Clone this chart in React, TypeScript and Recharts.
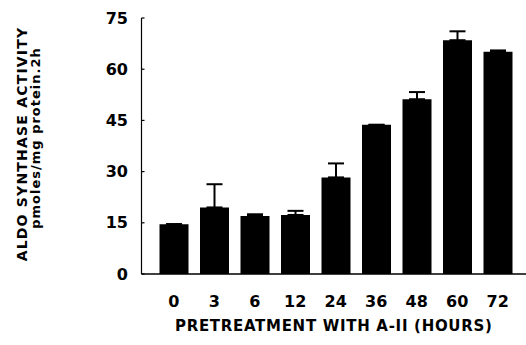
import React from "react";
import {
  BarChart,
  Bar,
  XAxis,
  YAxis,
  ErrorBar,
  Label,
} from "recharts";

// pretreatment hours and aldo synthase activity (pmoles/mg protein.2h)
const hours = ["0", "3", "6", "12", "24", "36", "48", "60", "72"];
const activity = [14.6, 19.5, 17.0, 17.3, 28.3, 43.7, 51.2, 68.5, 65.1];
const sem = [0, 6.8, 0.5, 1.2, 4.1, 0, 2.1, 2.6, 0.4];
const yTicks = [0, 15, 30, 45, 60, 75];

const data = hours.map((h, i) => ({
  hour: h,
  value: activity[i],
  err: [0, sem[i]],
}));

const font = "'DejaVu Sans', Verdana, sans-serif";

const YTitle = (props: any) => {
  const vb = props.viewBox || {};
  const cy = vb.y + vb.height / 2;
  return (
    <g fontFamily={font} fontWeight={700} fill="#000">
      <text
        transform="rotate(-90)"
        x={-(cy - 2)}
        y={27}
        textAnchor="middle"
        fontSize={14}
        letterSpacing={1.2}
      >
        ALDO SYNTHASE ACTIVITY
      </text>
      <text
        transform="rotate(-90)"
        x={-(cy - 8)}
        y={40}
        textAnchor="middle"
        fontSize={13}
        letterSpacing={1}
      >
        pmoles/mg protein.2h
      </text>
    </g>
  );
};

const XTitle = (props: any) => {
  const vb = props.viewBox || {};
  return (
    <text
      x={vb.x + vb.width / 2}
      y={vb.y + 57}
      textAnchor="middle"
      fontFamily={font}
      fontWeight={700}
      fontSize={15}
      letterSpacing={0.7}
      fill="#000"
    >
      PRETREATMENT WITH A-II (HOURS)
    </text>
  );
};

export default function App() {
  return (
    <div
      style={{
        position: "absolute",
        left: 0,
        top: 0,
        width: 526,
        height: 345,
        background: "#fff",
      }}
    >
      <BarChart
        width={526}
        height={345}
        data={data}
        margin={{ top: 18, right: 0, bottom: 0, left: 0 }}
        barSize={29}
      >
        <XAxis
          dataKey="hour"
          height={71}
          padding={{ left: 12, right: 8 }}
          tickLine={false}
          axisLine={{ stroke: "#000", strokeWidth: 1.6 }}
          tickMargin={16}
          interval={0}
          tick={{ fontSize: 16, fontWeight: 700, fill: "#000", fontFamily: font }}
        >
          <Label content={<XTitle />} />
        </XAxis>
        <YAxis
          width={141.5}
          domain={[0, 75]}
          ticks={yTicks}
          interval={0}
          axisLine={{ stroke: "#000", strokeWidth: 1.2 }}
          tickLine={{ stroke: "#000", strokeWidth: 1.2 }}
          tickSize={-3}
          tickMargin={16.5}
          tick={{ fontSize: 16, fontWeight: 700, fill: "#000", fontFamily: font }}
        >
          <Label content={<YTitle />} />
        </YAxis>
        <Bar dataKey="value" fill="#000" isAnimationActive={false}>
          <ErrorBar
            dataKey="err"
            width={8}
            stroke="#000"
            strokeWidth={2}
            direction="y"
          />
        </Bar>
      </BarChart>
    </div>
  );
}
